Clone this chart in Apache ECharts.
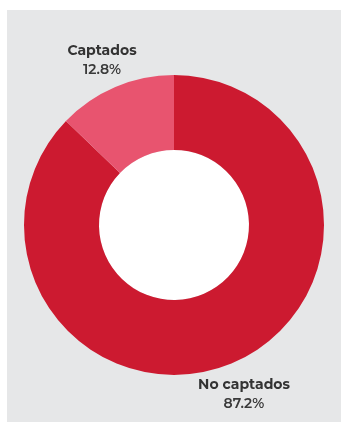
<!DOCTYPE html>
<html>
<head>
<meta charset="utf-8">
<script src="https://cdn.jsdelivr.net/npm/echarts@6/dist/echarts.min.js"></script>
<style>
  html, body { margin: 0; padding: 0; background: #fff; }
  #main { position: absolute; left: 7px; top: 10px; width: 334px; height: 412px; background: #e6e7e8; }
</style>
</head>
<body>
<div id="main"></div>
<script>
// categorias y porcentajes
var categories = ['No captados', 'Captados'];
var values = [87.2, 12.8];
var colors = ['#cc1a30', '#e8546f'];

var chart = echarts.init(document.getElementById('main'));

// posicion de las etiquetas (centro del bloque de texto)
var labelPos = [[237, 384], [95, 50]];

var option = {
  backgroundColor: 'transparent',
  // hueco blanco del centro
  graphic: [{
    type: 'circle',
    shape: { cx: 167, cy: 215, r: 75 },
    style: { fill: '#fff' },
    silent: true,
    z: -1
  }],
  series: [{
    type: 'pie',
    center: [167, 215],
    radius: [75, 150],
    startAngle: 90,
    clockwise: true,
    silent: true,
    data: categories.map(function (name, i) {
      return { name: name, value: values[i], itemStyle: { color: colors[i] } };
    }),
    label: {
      show: true,
      position: 'outside',
      overflow: 'none',
      width: 150,
      formatter: function (p) {
        return '{n|' + p.name + '}\n{v|' + p.value.toFixed(1) + '%}';
      },
      rich: {
        n: { fontFamily: 'Montserrat, "Open Sans", sans-serif', fontWeight: 'bold', fontSize: 14, color: '#333', lineHeight: 19, align: 'center' },
        v: { fontFamily: 'Montserrat, "Open Sans", sans-serif', fontWeight: 600, fontSize: 14, color: '#3a3a3a', lineHeight: 19, align: 'center' }
      }
    },
    labelLine: { show: false },
    labelLayout: function (params) {
      var p = labelPos[params.dataIndex];
      return { x: p[0], y: p[1], align: 'center', verticalAlign: 'middle' };
    }
  }]
};
chart.setOption(option);
</script>
</body>
</html>
